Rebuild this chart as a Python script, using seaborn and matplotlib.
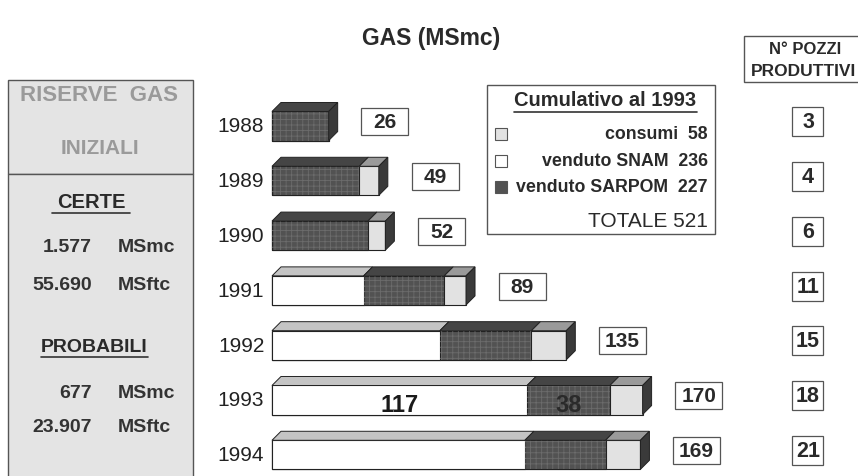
import matplotlib
matplotlib.use("Agg")
import matplotlib.pyplot as plt
import matplotlib.transforms as mtransforms
from matplotlib.patches import Polygon, Rectangle
from matplotlib.lines import Line2D
import pandas as pd
import seaborn as sns

# data (MSmc per year)
years = ["1988", "1989", "1990", "1991", "1992", "1993", "1994"]
snam = [0, 0, 0, 42, 77, 117, 116]        # venduto SNAM (white)
sarpom = [26, 40, 44, 37, 42, 38, 37]     # venduto SARPOM (dark)
consumi = [0, 9, 8, 10, 16, 15, 16]       # consumi (light)
pozzi = [3, 4, 6, 11, 15, 18, 21]         # N° pozzi produttivi

legend_labels = ["consumi", "venduto SNAM", "venduto SARPOM"]
legend_values = [58, 236, 227]
totale_1993 = 521

df = pd.DataFrame({"year": years, "snam": snam, "sarpom": sarpom, "consumi": consumi})
df["dark_end"] = df["snam"] + df["sarpom"]
df["total"] = df["dark_end"] + df["consumi"]

sns.set_theme(style="white")
plt.rcParams['font.family'] = ['Liberation Sans', 'DejaVu Sans']
plt.rcParams['hatch.linewidth'] = 0.6

W, H = 858, 477
fig = plt.figure(figsize=(W / 100, H / 100), dpi=100)
ax = fig.add_axes([0, 0, 1, 1])

WHITE, DARK, LIGHT = "white", "#525252", "#e2e2e2"
bar_h = 0.53

# stacked bars by layering: total (light), then snam+sarpom (dark), then snam (white)
common = dict(y="year", orient="h", width=bar_h, edgecolor="#222222", linewidth=0.8,
              saturation=1, errorbar=None, ax=ax)
sns.barplot(data=df, x="total", color=LIGHT, **common)
sns.barplot(data=df, x="dark_end", color=DARK, **common)
sns.barplot(data=df, x="snam", color=WHITE, **common)
# scanned texture on the dark part
ax.barh(range(len(df)), df["sarpom"], left=df["snam"], height=bar_h, fc="none",
        ec="#6c6c6c", lw=0, hatch="+++")

# scale so that x=0 sits where the bars start
ppu = 2.18
ax.set_xlim(-272 / ppu, (W - 272) / ppu)
ax.set_ylim((H - 127) / 54.8, -127 / 54.8)
ax.axis("off")

# 3D faces (top and end) of each bar, year labels and total boxes
dx, dy = 9 / ppu, 9 / 54.8
box_w, box_h = 47 / ppu, 27 / 54.8
for i, row in df.iterrows():
    top, bot = i - bar_h / 2, i + bar_h / 2
    segs = [(0, row.snam, "#c4c4c4"), (row.snam, row.dark_end, "#454545"),
            (row.dark_end, row.total, "#9a9a9a")]
    for a, b, c in segs:
        if b > a:
            ax.add_patch(Polygon([(a, top), (b, top), (b + dx, top - dy), (a + dx, top - dy)],
                                 closed=True, fc=c, ec="#222222", lw=0.7))
    t = row.total
    ax.add_patch(Polygon([(t, top), (t, bot), (t + dx, bot - dy), (t + dx, top - dy)],
                         closed=True, fc="#3a3a3a", ec="#222222", lw=0.7))
    ax.text(-3.5, i, row.year, ha="right", va="center", fontsize=15, color="#222222")
    yc = i - 0.08
    ax.add_patch(Rectangle((t + 15, yc - box_h / 2), box_w, box_h, fc="white",
                           ec="#555555", lw=0.9))
    ax.text(t + 15 + box_w / 2, yc, str(int(t)), ha="center", va="center", fontsize=15,
            fontweight="bold", color="#2a2a2a")

# numbers inside the 1993 bar
r93 = df.iloc[5]
ax.text(r93.snam / 2, 5 + 0.08, str(r93.snam), ha="center", va="center",
        fontsize=17, fontweight="bold", color="#1a1a1a")
ax.text(r93.snam + r93.sarpom / 2, 5 + 0.08, str(r93.sarpom), ha="center", va="center",
        fontsize=17, fontweight="bold", color="#2a2a2a")

# pozzi column
blend = mtransforms.blended_transform_factory(ax.transAxes, ax.transData)
pz_h = 29 / 54.8
for i, n in enumerate(pozzi):
    yc = i - 0.08
    ax.add_patch(Rectangle((792 / W, yc - pz_h / 2), 31 / W, pz_h, transform=blend,
                           fc="white", ec="#555555", lw=0.9))
    ax.text(808 / W, yc, str(n), transform=blend, ha="center", va="center",
            fontsize=15.5, fontweight="bold", color="#2a2a2a")


def fx(x):
    return x / W


def fy(y):
    return 1 - y / H


def box(x0, y0, x1, y1, fc):
    fig.add_artist(Rectangle((fx(x0), fy(y1)), fx(x1) - fx(x0), fy(y0) - fy(y1),
                             transform=fig.transFigure, fc=fc, ec="#555555", lw=1, zorder=0))


def uline(x0, x1, y):
    fig.add_artist(Line2D([fx(x0), fx(x1)], [fy(y), fy(y)], transform=fig.transFigure,
                          color="#333333", lw=1.2))


# title
fig.text(fx(431), fy(38), "GAS (MSmc)", ha="center", va="center", fontsize=16.5,
         fontweight="bold", color="#2a2a2a")

# left panel
box(8, 81, 193, 175, "#e4e4e4")
box(8, 175, 193, 480, "#e4e4e4")
fig.text(fx(99), fy(96), "RISERVE  GAS", ha="center", va="center", fontsize=16,
         fontweight="bold", color="#9a9a9a")
fig.text(fx(100), fy(148), "INIZIALI", ha="center", va="center", fontsize=15,
         fontweight="bold", color="#9a9a9a")
fig.text(fx(91), fy(203), "CERTE", ha="center", va="center", fontsize=14.5,
         fontweight="bold", color="#2a2a2a")
uline(52, 130, 214)
fig.text(fx(94), fy(347), "PROBABILI", ha="center", va="center", fontsize=14,
         fontweight="bold", color="#2a2a2a")
uline(41, 148, 358)
for val, unit, y in [("1.577", "MSmc", 248), ("55.690", "MSftc", 286),
                     ("677", "MSmc", 394), ("23.907", "MSftc", 428)]:
    fig.text(fx(92), fy(y), val, ha="right", va="center", fontsize=14,
             fontweight="bold", color="#333333")
    fig.text(fx(118), fy(y), unit, ha="left", va="center", fontsize=14,
             fontweight="bold", color="#333333")

# cumulative legend box
box(487, 86, 715, 235, "white")
fig.text(fx(605), fy(101), "Cumulativo al 1993", ha="center", va="center", fontsize=14.5,
         fontweight="bold", color="#2a2a2a")
uline(514, 697, 113)
sq_colors = [LIGHT, WHITE, DARK]
for lab, val, c, y in zip(legend_labels, legend_values, sq_colors, [135, 162, 188]):
    fig.add_artist(Rectangle((fx(495), fy(y + 6)), fx(12), fy(0) - fy(12),
                             transform=fig.transFigure, fc=c, ec="#555555", lw=0.8))
    fig.text(fx(708), fy(y), f"{lab}  {val}", ha="right", va="center", fontsize=12.8,
             fontweight="bold", color="#2a2a2a")
fig.text(fx(708), fy(222), f"TOTALE {totale_1993}", ha="right", va="center",
         fontsize=15, color="#2a2a2a")

# pozzi header
box(744, 37, 862, 83, "white")
fig.text(fx(805), fy(50), "N° POZZI", ha="center", va="center", fontsize=12,
         fontweight="bold", color="#2a2a2a")
fig.text(fx(803), fy(71), "PRODUTTIVI", ha="center", va="center", fontsize=12.5,
         fontweight="bold", color="#2a2a2a")

fig.savefig("out.png", dpi=100)
